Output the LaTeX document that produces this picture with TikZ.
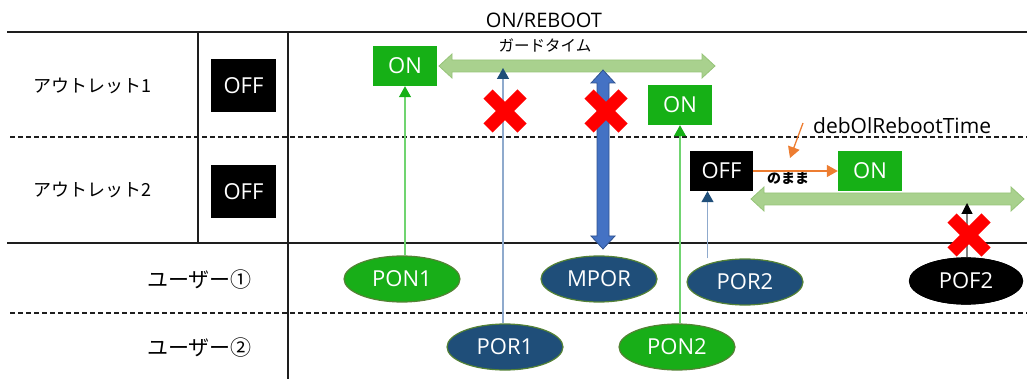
\documentclass[tikz,border=0pt]{standalone}
\usepackage{fontspec}
\setmainfont{Open Sans}
\newfontfamily\jpfont{Noto Sans CJK JP}
\usetikzlibrary{arrows.meta,shapes.geometric,calc}

\definecolor{stgreen}{RGB}{22,176,22}
\definecolor{evgreen}{RGB}{24,174,24}
\definecolor{evedge}{RGB}{84,130,53}
\definecolor{evblue}{RGB}{31,78,121}
\definecolor{bandfill}{RGB}{169,209,142}
\definecolor{bandedge}{RGB}{150,196,120}
\definecolor{mporfill}{RGB}{68,114,196}
\definecolor{mporedge}{RGB}{47,82,143}
\definecolor{ponline}{RGB}{112,212,112}
\definecolor{porline}{RGB}{143,170,205}
\definecolor{orangeln}{RGB}{237,125,49}
\definecolor{gridln}{RGB}{30,30,30}

\tikzset{
  x=1pt, y=-1pt,
  solidrule/.style={line width=1.6pt, draw=gridln},
  dashrule/.style={line width=1.3pt, draw=gridln, dash pattern=on 5pt off 3pt},
  latin/.style={font=\fontsize{22}{26}\selectfont},
  offbox/.style={fill=black, text=white, inner sep=0, latin,
    minimum width=65pt, minimum height=53pt},
  offsmall/.style={fill=black, text=white, inner sep=0, latin,
    minimum width=63pt, minimum height=40pt},
  onbox/.style={fill=stgreen, text=white, inner sep=0, latin,
    minimum width=64pt, minimum height=40pt},
  rowlabel/.style={font=\jpfont\fontsize{18}{22}\selectfont, inner sep=0},
  userlabel/.style={font=\jpfont\fontsize{21}{24}\selectfont, inner sep=0, anchor=east},
  event/.style={ellipse, inner sep=0, minimum width=116pt, minimum height=46pt,
    line width=1.2pt, draw=evedge, text=white, latin},
  evon/.style={event, fill=evgreen},
  evreset/.style={event, fill=evblue},
  evoff/.style={event, fill=black, draw=black},
  band/.style={fill=bandfill, draw=bandedge, line width=0.8pt},
  ponarrow/.style={draw=ponline, line width=1.2pt,
    -{Triangle[width=12pt,length=11pt,color=stgreen]}},
  porarrow/.style={draw=porline, line width=1.4pt,
    -{Triangle[width=12pt,length=11pt,color=evblue]}},
  pofarrow/.style={draw=gray, line width=1.2pt,
    -{Triangle[width=11pt,length=11pt,color=black]}},
  orarrow/.style={draw=orangeln, line width=1.3pt,
    -{Triangle[width=12pt,length=11pt,color=orangeln]}},
  nogo/.pic={\draw[red, line width=13pt] (-17,-17) -- (17,17) (-17,17) -- (17,-17);}
}

% horizontal band arrow with heads at both ends: x from #1 to #2 at height #3
\newcommand\guardband[3]{%
  \filldraw[band] (#1,#3) -- ({#1+13},{#3-12}) -- ({#1+13},{#3-6})
    -- ({#2-13},{#3-6}) -- ({#2-13},{#3-12}) -- (#2,#3)
    -- ({#2-13},{#3+12}) -- ({#2-13},{#3+6}) -- ({#1+13},{#3+6})
    -- ({#1+13},{#3+12}) -- cycle;}

\begin{document}
\begin{tikzpicture}
\useasboundingbox (0,0) rectangle (1027,379);

% table rules
\draw[solidrule] (7,32) -- (1027,32);
\draw[solidrule] (7,243) -- (1027,243);
\draw[dashrule] (10,137) -- (1027,137);
\draw[dashrule] (10,313) -- (1027,313);
\draw[solidrule] (198,32) -- (198,243);
\draw[solidrule] (288,32) -- (288,379);

% row headers
\node[rowlabel] (lab1) at (92,86) {アウトレット1};
\node[rowlabel] (lab2) at (92,190) {アウトレット2};
\node[userlabel] (usr1) at (252,280) {ユーザー①};
\node[userlabel] (usr2) at (252,348) {ユーザー②};
\node[offbox] (init1) at (243.5,85.5) {OFF};
\node[offbox] (init2) at (243.5,191.5) {OFF};

% guard time titles
\node[font=\fontsize{20}{24}\selectfont, inner sep=0] (gtitle) at (544,20) {ON/REBOOT};
\node[font=\jpfont\fontsize{15.5}{18}\selectfont, inner sep=0] (gsub) at (545,45) {ガードタイム};

% guard-time bands
\guardband{439}{715}{66}
\guardband{751}{1024}{199}

% MPOR reset arrow (heads at both ends)
\filldraw[fill=mporfill, draw=mporedge, line width=0.8pt]
  (603,70) -- (615,83) -- (609,83) -- (609,236) -- (615,236) -- (603,249)
  -- (591,236) -- (597,236) -- (597,83) -- (591,83) -- cycle;

% outlet states
\node[onbox] (on1) at (405,66) {ON};
\node[onbox] (on2) at (680,105) {ON};
\node[offsmall] (off3) at (721.5,171) {OFF};
\node[onbox] (on3) at (870,171) {ON};
\node[font=\jpfont\bfseries\fontsize{14}{16}\selectfont, inner sep=0] (keep) at (788,178) {のまま};
\node[font=\fontsize{21}{24}\selectfont, inner sep=0, anchor=west] (debt) at (813,126) {debOlRebootTime};
\coordinate (debfoot) at (803,123);
\coordinate (debtip) at (790,158);

% user events
\node[evon] (pon1) at (402,279) {PON1};
\node[evreset] (por1) at (505,347) {POR1};
\node[evreset] (mpor) at (599,279) {MPOR};
\node[evon] (pon2) at (677,347) {PON2};
\node[evreset] (por2) at (745,282) {POR2};
\node[evoff, minimum width=113pt] (pof2) at (966,281) {POF2};

% event arrows
\coordinate (por1tip) at (503,68);
\coordinate (pof2tip) at (967,203);
\draw[ponarrow] (on1.south |- pon1.north) -- (on1.south);
\draw[porarrow] (por1tip |- por1.north) -- (por1tip);
\draw[ponarrow] (on2.south |- pon2.north) -- (on2.south);
\draw[porarrow] ([xshift=-14pt]off3.south |- por2.north) -- ([xshift=-14pt]off3.south);
\draw[pofarrow] (pof2tip |- pof2.north) -- (pof2tip);
\draw[orarrow] (off3.east) -- (on3.west);
\draw[orarrow] (debfoot) -- (debtip);

% rejected requests
\pic at (505,111) {nogo};
\pic at (606,111) {nogo};
\pic at (969,235) {nogo};

% redraw the events over the crossings
\node[evoff, minimum width=113pt] at (pof2) {POF2};
\end{tikzpicture}
\end{document}
